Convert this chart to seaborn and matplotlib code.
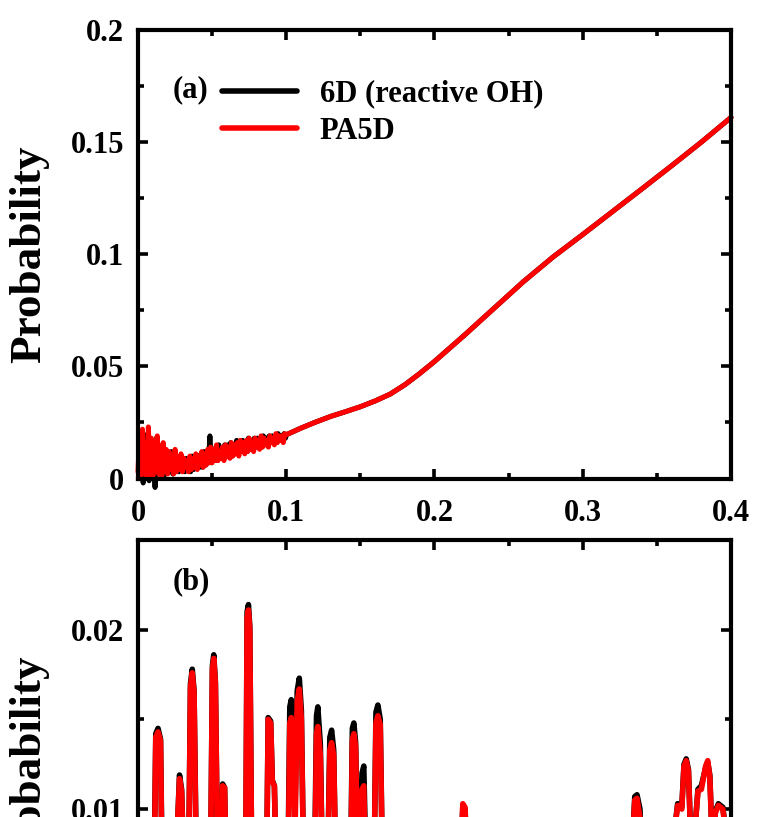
import matplotlib
matplotlib.use("Agg")
import matplotlib.pyplot as plt
from matplotlib.ticker import MultipleLocator, FixedLocator, FixedFormatter
import pandas as pd
import seaborn as sns

# ---------------------------------------------------------------- data
LABEL_6D = "6D (reactive OH)"
LABEL_PA5D = "PA5D"
SERIES_ORDER = [LABEL_6D, LABEL_PA5D]
SERIES_COLORS = {LABEL_6D: "#000000", LABEL_PA5D: "#ff0000"}

# (a) noisy low-energy region, PA5D sampled every 0.001
RED_NOISE_X = [0.000, 0.001, 0.002, 0.003, 0.004, 0.005, 0.006, 0.007, 0.008, 0.009,
               0.010, 0.011, 0.012, 0.013, 0.014, 0.015, 0.016, 0.017, 0.018, 0.019,
               0.020, 0.021, 0.022, 0.023, 0.024, 0.025, 0.026, 0.027, 0.028, 0.029,
               0.030, 0.031, 0.032, 0.033, 0.034, 0.035, 0.036, 0.037, 0.038, 0.039,
               0.040, 0.041, 0.042, 0.043, 0.044, 0.045, 0.046, 0.047, 0.048, 0.049,
               0.050, 0.051, 0.052, 0.053, 0.054, 0.055, 0.056, 0.057, 0.058, 0.059,
               0.060, 0.061, 0.062, 0.063, 0.064, 0.065, 0.066, 0.067, 0.068, 0.069,
               0.070, 0.071, 0.072, 0.073, 0.074, 0.075, 0.076, 0.077, 0.078, 0.079,
               0.080, 0.081, 0.082, 0.083, 0.084, 0.085, 0.086, 0.087, 0.088, 0.089,
               0.090, 0.091, 0.092, 0.093, 0.094, 0.095, 0.096, 0.097, 0.098, 0.099]
RED_NOISE_Y = [0.003, 0.019, 0.001, 0.022, 0.004, 0.016, 0.000, 0.023, 0.002, 0.018,
               0.001, 0.017, 0.003, 0.019, 0.002, 0.014, 0.001, 0.016, 0.003, 0.013,
               0.002, 0.012, 0.004, 0.010, 0.002, 0.013, 0.003, 0.009, 0.004, 0.011,
               0.003, 0.009, 0.005, 0.008, 0.003, 0.010, 0.004, 0.009, 0.005, 0.011,
               0.004, 0.010, 0.006, 0.012, 0.005, 0.011, 0.006, 0.013, 0.007, 0.014,
               0.007, 0.013, 0.008, 0.015, 0.008, 0.012, 0.009, 0.014, 0.008, 0.015,
               0.010, 0.014, 0.009, 0.016, 0.010, 0.015, 0.011, 0.016, 0.010, 0.017,
               0.012, 0.016, 0.011, 0.017, 0.012, 0.018, 0.013, 0.016, 0.012, 0.018,
               0.014, 0.017, 0.013, 0.019, 0.014, 0.018, 0.015, 0.017, 0.014, 0.019,
               0.016, 0.018, 0.015, 0.020, 0.016, 0.019, 0.017, 0.019, 0.016, 0.020]
# (a) noisy low-energy region, 6D sampled on the half-steps
BLACK_NOISE_X = [0.0005, 0.0015, 0.0025, 0.0035, 0.0045, 0.0055, 0.0065, 0.0075, 0.0085, 0.0095,
                 0.0105, 0.0115, 0.0125, 0.0135, 0.0145, 0.0155, 0.0165, 0.0175, 0.0185, 0.0195,
                 0.0205, 0.0215, 0.0225, 0.0235, 0.0245, 0.0255, 0.0265, 0.0275, 0.0285, 0.0295,
                 0.0305, 0.0315, 0.0325, 0.0335, 0.0345, 0.0355, 0.0365, 0.0375, 0.0385, 0.0395,
                 0.0405, 0.0415, 0.0425, 0.0435, 0.0445, 0.0455, 0.0465, 0.0475, 0.0485, 0.0495,
                 0.0505, 0.0515, 0.0525, 0.0535, 0.0545, 0.0555, 0.0565, 0.0575, 0.0585, 0.0595,
                 0.0605, 0.0615, 0.0625, 0.0635, 0.0645, 0.0655, 0.0665, 0.0675, 0.0685, 0.0695,
                 0.0705, 0.0715, 0.0725, 0.0735, 0.0745, 0.0755, 0.0765, 0.0775, 0.0785, 0.0795,
                 0.0805, 0.0815, 0.0825, 0.0835, 0.0845, 0.0855, 0.0865, 0.0875, 0.0885, 0.0895,
                 0.0905, 0.0915, 0.0925, 0.0935, 0.0945, 0.0955, 0.0965, 0.0975, 0.0985, 0.0995]
BLACK_NOISE_Y = [0.010, 0.002, 0.021, -0.002, 0.018, 0.003, 0.020, -0.001, 0.017, 0.002,
                 0.015, -0.004, 0.018, 0.002, 0.014, 0.003, 0.015, 0.001, 0.012, 0.003,
                 0.011, 0.003, 0.012, 0.002, 0.010, 0.004, 0.009, 0.003, 0.010, 0.004,
                 0.008, 0.003, 0.009, 0.005, 0.008, 0.003, 0.010, 0.004, 0.009, 0.005,
                 0.010, 0.005, 0.011, 0.005, 0.012, 0.006, 0.012, 0.007, 0.019, 0.007,
                 0.013, 0.008, 0.014, 0.008, 0.015, 0.009, 0.013, 0.009, 0.015, 0.010,
                 0.015, 0.010, 0.016, 0.010, 0.015, 0.011, 0.017, 0.011, 0.016, 0.012,
                 0.017, 0.012, 0.016, 0.012, 0.018, 0.013, 0.017, 0.013, 0.018, 0.014,
                 0.018, 0.014, 0.018, 0.014, 0.019, 0.015, 0.018, 0.015, 0.019, 0.016,
                 0.019, 0.016, 0.019, 0.016, 0.020, 0.017, 0.019, 0.017, 0.020, 0.018]

# (a) smooth region shared by both calculations
SMOOTH_X = [0.100, 0.110, 0.120, 0.130, 0.140, 0.150, 0.160, 0.170, 0.180, 0.190,
            0.200, 0.220, 0.240, 0.260, 0.280, 0.300, 0.320, 0.340, 0.360, 0.380, 0.400]
SMOOTH_Y = [0.0195, 0.0225, 0.0252, 0.0277, 0.0298, 0.0320, 0.0346, 0.0376, 0.0418, 0.0468,
            0.0522, 0.0638, 0.0758, 0.0878, 0.0988, 0.1088, 0.1190, 0.1292, 0.1395, 0.1500, 0.1610]

# (b) spiky distribution
B_X = [0.0000, 0.0060, 0.0108, 0.0120, 0.0135, 0.0152, 0.0164, 0.0210, 0.0266, 0.0280,
       0.0294, 0.0312, 0.0343, 0.0354, 0.0366, 0.0378, 0.0397, 0.0450, 0.0490, 0.0502,
       0.0511, 0.0522, 0.0540, 0.0560, 0.0571, 0.0584, 0.0602, 0.0680, 0.0726, 0.0736,
       0.0745, 0.0754, 0.0770, 0.0830, 0.0868, 0.0878, 0.0895, 0.0906, 0.0920, 0.0934,
       0.0990, 0.1013, 0.1024, 0.1034, 0.1048, 0.1060, 0.1074, 0.1088, 0.1102, 0.1120,
       0.1165, 0.1193, 0.1204, 0.1213, 0.1230, 0.1247, 0.1278, 0.1294, 0.1306, 0.1320,
       0.1337, 0.1400, 0.1436, 0.1446, 0.1456, 0.1468, 0.1484, 0.1500, 0.1511, 0.1523,
       0.1540, 0.1593, 0.1605, 0.1618, 0.1634, 0.1652, 0.1800, 0.2000, 0.2176, 0.2191,
       0.2206, 0.2224, 0.2500, 0.2800, 0.3100, 0.3328, 0.3351, 0.3366, 0.3386, 0.3402,
       0.3550, 0.3608, 0.3640, 0.3668, 0.3683, 0.3698, 0.3713, 0.3730, 0.3758, 0.3777,
       0.3800, 0.3829, 0.3843, 0.3857, 0.3874, 0.3895, 0.3915, 0.3945, 0.3975, 0.4000]
RED_B_Y = [0.0040, 0.0060, 0.0050, 0.0140, 0.0143, 0.0138, 0.0050, 0.0060, 0.0090, 0.0117,
           0.0110, 0.0060, 0.0080, 0.0168, 0.0176, 0.0165, 0.0040, 0.0060, 0.0070, 0.0178,
           0.0184, 0.0170, 0.0050, 0.0060, 0.0113, 0.0112, 0.0040, 0.0050, 0.0060, 0.0207,
           0.0211, 0.0200, 0.0040, 0.0060, 0.0070, 0.0150, 0.0148, 0.0115, 0.0113, 0.0060,
           0.0050, 0.0070, 0.0148, 0.0151, 0.0120, 0.0090, 0.0160, 0.0167, 0.0150, 0.0050,
           0.0060, 0.0070, 0.0142, 0.0146, 0.0130, 0.0050, 0.0060, 0.0133, 0.0137, 0.0130,
           0.0050, 0.0060, 0.0070, 0.0139, 0.0142, 0.0135, 0.0060, 0.0070, 0.0111, 0.0113,
           0.0050, 0.0070, 0.0148, 0.0152, 0.0147, 0.0050, 0.0050, 0.0060, 0.0070, 0.0103,
           0.0101, 0.0060, 0.0050, 0.0060, 0.0050, 0.0070, 0.0105, 0.0106, 0.0095, 0.0060,
           0.0070, 0.0080, 0.0102, 0.0100, 0.0124, 0.0127, 0.0121, 0.0080, 0.0090, 0.0110,
           0.0111, 0.0124, 0.0127, 0.0118, 0.0080, 0.0098, 0.0102, 0.0100, 0.0080, 0.0070]
BLACK_B_Y = [0.0050, 0.0050, 0.0060, 0.0142, 0.0145, 0.0139, 0.0060, 0.0050, 0.0090, 0.0119,
             0.0111, 0.0060, 0.0080, 0.0170, 0.0178, 0.0166, 0.0050, 0.0060, 0.0070, 0.0180,
             0.0186, 0.0171, 0.0050, 0.0060, 0.0114, 0.0112, 0.0040, 0.0050, 0.0060, 0.0210,
             0.0214, 0.0202, 0.0040, 0.0060, 0.0070, 0.0151, 0.0149, 0.0116, 0.0113, 0.0060,
             0.0050, 0.0080, 0.0157, 0.0161, 0.0126, 0.0101, 0.0166, 0.0173, 0.0155, 0.0050,
             0.0060, 0.0080, 0.0152, 0.0157, 0.0136, 0.0050, 0.0060, 0.0140, 0.0144, 0.0133,
             0.0050, 0.0060, 0.0080, 0.0145, 0.0148, 0.0137, 0.0060, 0.0080, 0.0120, 0.0124,
             0.0060, 0.0070, 0.0154, 0.0158, 0.0150, 0.0050, 0.0050, 0.0060, 0.0070, 0.0101,
             0.0100, 0.0060, 0.0050, 0.0060, 0.0050, 0.0070, 0.0107, 0.0108, 0.0100, 0.0060,
             0.0070, 0.0080, 0.0103, 0.0101, 0.0125, 0.0128, 0.0122, 0.0080, 0.0090, 0.0111,
             0.0113, 0.0123, 0.0126, 0.0119, 0.0080, 0.0099, 0.0103, 0.0101, 0.0080, 0.0070]

X_LIM = (0.0, 0.4)
X_MAJOR = [0.0, 0.1, 0.2, 0.3, 0.4]
X_LABELS = ["0", "0.1", "0.2", "0.3", "0.4"]
YA_LIM = (0.0, 0.2)
YA_MAJOR = [0.0, 0.05, 0.1, 0.15, 0.2]
YA_LABELS = ["0", "0.05", "0.1", "0.15", "0.2"]
YB_LIM = (0.0, 0.025)
YB_MAJOR = [0.0, 0.01, 0.02]
YB_LABELS = ["0", "0.01", "0.02"]
Y_LABEL = "Probability"

# ---------------------------------------------------------------- frames
df_a = pd.concat([
    pd.DataFrame({"x": BLACK_NOISE_X + SMOOTH_X, "y": BLACK_NOISE_Y + SMOOTH_Y, "series": LABEL_6D}),
    pd.DataFrame({"x": RED_NOISE_X + SMOOTH_X, "y": RED_NOISE_Y + SMOOTH_Y, "series": LABEL_PA5D}),
], ignore_index=True)
df_b = pd.concat([
    pd.DataFrame({"x": B_X, "y": BLACK_B_Y, "series": LABEL_6D}),
    pd.DataFrame({"x": B_X, "y": RED_B_Y, "series": LABEL_PA5D}),
], ignore_index=True)

# ---------------------------------------------------------------- style
sns.set_theme(style="ticks")
plt.rcParams["font.family"] = ["Liberation Serif", "DejaVu Serif"]
plt.rcParams["font.weight"] = "bold"
plt.rcParams["axes.labelweight"] = "bold"
plt.rcParams["text.color"] = "black"
plt.rcParams["axes.labelcolor"] = "black"
plt.rcParams["xtick.color"] = "black"
plt.rcParams["ytick.color"] = "black"

W, H = 757, 817
fig = plt.figure(figsize=(W / 100, H / 100), dpi=100)
fig.patch.set_facecolor("white")

left, right = 138 / W, 731 / W
ax_h = 448.5 / H
ax_a = fig.add_axes([left, (H - 478.5) / H, right - left, ax_h])
ax_b = fig.add_axes([left, (H - 988.5) / H, right - left, ax_h])

for ax, df, lw in ((ax_a, df_a, 3.6), (ax_b, df_b, 4.0)):
    sns.lineplot(data=df, x="x", y="y", hue="series", hue_order=SERIES_ORDER,
                 palette=SERIES_COLORS, estimator=None, sort=True,
                 linewidth=lw, ax=ax, legend=(ax is ax_a))

for ln in ax_a.lines:
    ln.set_clip_on(False)


def style_axis(ax, ylim, yticks, ylabels, yminor):
    ax.set_xlim(*X_LIM)
    ax.set_ylim(*ylim)
    ax.xaxis.set_major_locator(FixedLocator(X_MAJOR))
    ax.xaxis.set_major_formatter(FixedFormatter(X_LABELS))
    ax.xaxis.set_minor_locator(MultipleLocator(0.05))
    ax.yaxis.set_major_locator(FixedLocator(yticks))
    ax.yaxis.set_major_formatter(FixedFormatter(ylabels))
    ax.yaxis.set_minor_locator(MultipleLocator(yminor))
    ax.tick_params(which="both", direction="in", top=True, right=True,
                   width=2.6, color="black", labelsize=22, labelcolor="black")
    ax.tick_params(which="major", length=7.5)
    ax.tick_params(which="minor", length=4.5)
    ax.tick_params(axis="x", which="major", pad=15)
    ax.tick_params(axis="y", which="major", pad=10)
    for sp in ax.spines.values():
        sp.set_linewidth(3.0)
        sp.set_color("black")
        sp.set_visible(True)
    ax.set_xlabel("")
    ax.set_ylabel(Y_LABEL, fontsize=32.5, fontweight="bold", color="black")
    ax.yaxis.set_label_coords(-0.150, 0.5)
    ax.set_facecolor("white")
    ax.grid(False)


style_axis(ax_a, YA_LIM, YA_MAJOR, YA_LABELS, 0.025)
style_axis(ax_b, YB_LIM, YB_MAJOR, YB_LABELS, 0.005)
# the lower panel runs past the bottom edge of the page, so its x labels are not drawn
ax_b.tick_params(axis="x", labelbottom=False)

handles, labels = ax_a.get_legend_handles_labels()
for h in handles:
    h.set_linewidth(4.0)
leg = ax_a.legend(handles, labels, loc="upper left", bbox_to_anchor=(0.1417, 0.890),
                  frameon=False, borderpad=0, borderaxespad=0, handlelength=2.45,
                  handletextpad=0.75, labelspacing=0.28,
                  prop={"size": 22, "weight": "bold", "family": "Liberation Serif"})
for t in leg.get_texts():
    t.set_color("black")

ax_a.text(0.059, 0.866, "(a)", transform=ax_a.transAxes, ha="left", va="center",
          fontsize=22, fontweight="bold", color="black")
ax_b.text(0.059, 0.906, "(b)", transform=ax_b.transAxes, ha="left", va="center",
          fontsize=22, fontweight="bold", color="black")

fig.savefig("out.png", dpi=100, facecolor="white")
